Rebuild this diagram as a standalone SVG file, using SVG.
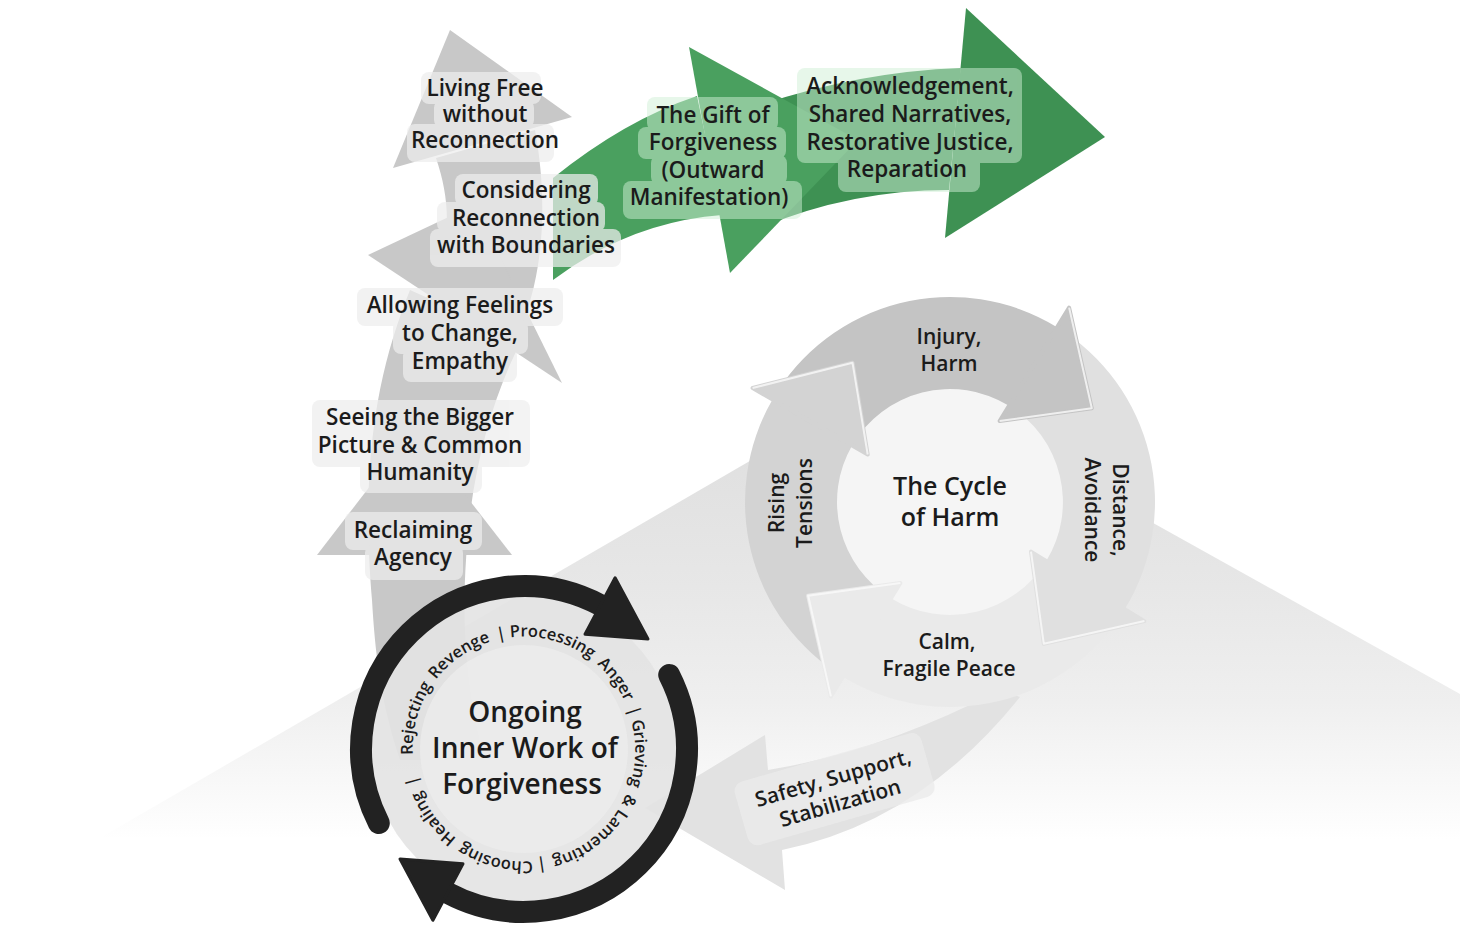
<svg xmlns="http://www.w3.org/2000/svg" width="1460" height="940" viewBox="0 0 1460 940">
<defs>
<linearGradient id="bgTri" gradientUnits="userSpaceOnUse" x1="0" y1="380" x2="0" y2="840">
<stop offset="0" stop-color="#dcdcdc"/>
<stop offset="0.45" stop-color="#e7e7e7"/>
<stop offset="0.7" stop-color="#efefef"/>
<stop offset="1" stop-color="#ffffff"/>
</linearGradient>
<path id="ringText" d="M414.7,768.3 A111,111 0 1,1 633.3,729.7 A111,111 0 1,1 414.7,768.3 A111,111 0 1,1 633.3,729.7"/>
</defs>
<style>
.lbl{font-family:"Open Sans","Liberation Sans",sans-serif;font-weight:600;font-size:22.5px;fill:#1b1b1b;text-anchor:middle}
.clbl{font-family:"Open Sans","Liberation Sans",sans-serif;font-weight:600;font-size:21px;fill:#1b1b1b;text-anchor:middle}
.big{font-family:"Open Sans","Liberation Sans",sans-serif;font-weight:600;font-size:28px;fill:#1b1b1b;text-anchor:middle}
.mid{font-family:"Open Sans","Liberation Sans",sans-serif;font-weight:600;font-size:25px;fill:#1b1b1b;text-anchor:middle}
.ring{font-family:"Open Sans","Liberation Sans",sans-serif;font-weight:600;font-size:16.5px;fill:#1b1b1b}
.gray{fill:#c8c8c8}
.bgw{fill:#eeeeee}
.bgg{fill:#d0f0d6}
.edge{fill:none;stroke:#fafafa;stroke-width:2;stroke-linejoin:round;opacity:.8}
</style>

<polygon points="893,378 1460,694 1460,840 100,838" fill="url(#bgTri)"/>

<g id="safety-arrow">
<path d="M1000,690 Q880,752 768,770 L765,735 L645,808 L785,890 L782,850 Q920,822 1020,697 Z" fill="#e2e2e2"/>
<rect x="-97" y="-38" width="194" height="66" rx="10" transform="translate(836,794) rotate(-16)" fill="#ebebeb" opacity="0.8"/>
<g transform="translate(835,785) rotate(-16)">
<text class="clbl" x="0" y="0">Safety, Support,</text>
<text class="clbl" x="0" y="26">Stabilization</text>
</g>
</g>

<g id="cycle-of-harm">
<circle cx="950" cy="502" r="116" fill="#f5f5f5"/>
<path d="M842.9,676.8 A205,205 0 0,1 772.5,399.5 L852.1,445.5 A113,113 0 0,0 891.0,598.3 Z" fill="#d3d3d3"/>
<path d="M772.5,399.5 A205,205 0 0,1 1057.1,327.2 L1009.0,405.7 A113,113 0 0,0 852.1,445.5 Z" fill="#c4c4c4"/>
<path d="M1057.1,327.2 A205,205 0 0,1 1124.8,609.1 L1046.3,561.0 A113,113 0 0,0 1009.0,405.7 Z" fill="#e0e0e0"/>
<path d="M1124.8,609.1 A205,205 0 0,1 842.9,676.8 L891.0,598.3 A113,113 0 0,0 1046.3,561.0 Z" fill="#eaeaea"/>
<polygon points="752.6,388 852.5,362.7 867.7,454.5" fill="#d3d3d3" stroke="#d3d3d3" stroke-width="4" stroke-linejoin="round"/>
<polygon points="1069.1,307.6 1091.8,408.2 999.6,421" fill="#c4c4c4" stroke="#c4c4c4" stroke-width="4" stroke-linejoin="round"/>
<polygon points="1144.4,621.1 1043.8,643.8 1031,551.6" fill="#e0e0e0" stroke="#e0e0e0" stroke-width="4" stroke-linejoin="round"/>
<polygon points="830.9,696.4 808.2,595.8 900.4,583" fill="#eaeaea" stroke="#eaeaea" stroke-width="4" stroke-linejoin="round"/>
<polyline class="edge" points="752.6,388 852.5,362.7 867.7,454.5"/>
<polyline class="edge" points="1069.1,307.6 1091.8,408.2 999.6,421"/>
<polyline class="edge" points="1144.4,621.1 1043.8,643.8 1031,551.6"/>
<polyline class="edge" points="830.9,696.4 808.2,595.8 900.4,583"/>
<text class="mid" x="950" y="495">The Cycle</text>
<text class="mid" x="950" y="526">of Harm</text>
<text class="clbl" x="949" y="344">Injury,</text>
<text class="clbl" x="949" y="371">Harm</text>
<text class="clbl" x="947" y="649">Calm,</text>
<text class="clbl" x="949" y="676">Fragile Peace</text>
<g transform="translate(784,503) rotate(-90)">
<text class="clbl" x="0" y="0">Rising</text>
<text class="clbl" x="0" y="28">Tensions</text>
</g>
<g transform="translate(1113,510) rotate(90)">
<text class="clbl" x="0" y="0">Distance,</text>
<text class="clbl" x="0" y="28">Avoidance</text>
</g>
</g>

<g id="gray-path">
<path class="gray" d="M436,158 C452,205 452,250 425,300 L515,340 C545,280 548,200 535,130 Z"/>
<polygon class="gray" points="450,30 572,117 393,168"/>
<path class="gray" d="M410,290 C378,370 360,460 372,600 C375,650 380,700 400,760 L485,760 C465,690 462,620 466,560 C470,480 490,400 522,340 Z"/>
<polygon class="gray" points="368,255 474,205 562,383"/>
<polygon class="gray" points="317,555 414,429 512,555"/>
</g>

<g id="green-arrows">
<path d="M740,112 Q850,72 961,68 L949,190 Q850,190 760,228 Z" fill="#3e9153"/>
<polygon points="966,8 1105,137 945,238" fill="#3e9153"/>
<path d="M553,178 Q625,120 697,96 L722,215 Q630,222 553,280 Z" fill="#4aa05f"/>
<polygon points="689,47 858,140 730,273" fill="#4aa05f"/>
</g>

<g id="inner-work">
<circle cx="524" cy="749" r="153" fill="#e3e3e3" opacity="0.9"/>
<circle cx="524" cy="749" r="104" fill="#ececec" opacity="0.8"/>
<path d="M378.8,823.0 A163,163 0 0,1 600.5,605.1" fill="none" stroke="#222222" stroke-width="22" stroke-linecap="round"/>
<path d="M669.2,675.0 A163,163 0 0,1 447.5,892.9" fill="none" stroke="#222222" stroke-width="22" stroke-linecap="round"/>
<polygon points="615.1,577.7 648,639 585.0,634.2" fill="#222222" stroke="#222222" stroke-width="3" stroke-linejoin="round"/>
<polygon points="432.9,920.3 400,859 463.0,863.8" fill="#222222" stroke="#222222" stroke-width="3" stroke-linejoin="round"/>
<g class="ring">
<text><textPath href="#ringText" startOffset="13.6">Rejecting</textPath></text>
<text><textPath href="#ringText" startOffset="93.6">Revenge</textPath></text>
<text><textPath href="#ringText" startOffset="168.6">|</textPath></text>
<text><textPath href="#ringText" startOffset="181.6">Processing</textPath></text>
<text><textPath href="#ringText" startOffset="274.8">Anger</textPath></text>
<text><textPath href="#ringText" startOffset="329">|</textPath></text>
<text><textPath href="#ringText" startOffset="342">Grieving</textPath></text>
<text><textPath href="#ringText" startOffset="416">&amp;</textPath></text>
<text><textPath href="#ringText" startOffset="433">Lamenting</textPath></text>
<text><textPath href="#ringText" startOffset="525">|</textPath></text>
<text><textPath href="#ringText" startOffset="538">Choosing</textPath></text>
<text><textPath href="#ringText" startOffset="619">Healing</textPath></text>
<text><textPath href="#ringText" startOffset="686">|</textPath></text>
</g>
<text class="big" x="525" y="722">Ongoing</text>
<text class="big" x="525" y="758">Inner Work of</text>
<text class="big" x="522" y="794">Forgiveness</text>
</g>

<g id="label-living-free">
<g class="bgw" opacity="0.72">
<rect x="421" y="72" width="120" height="32" rx="8"/>
<rect x="434" y="100" width="100" height="28" rx="8"/>
<rect x="407" y="124" width="147" height="38" rx="8"/>
</g>
<text class="lbl" x="485" y="96">Living Free</text>
<text class="lbl" x="485" y="122">without</text>
<text class="lbl" x="485" y="148">Reconnection</text>
</g>

<g id="label-considering">
<g class="bgw" opacity="0.72">
<rect x="455" y="174" width="143" height="32" rx="8"/>
<rect x="437" y="202" width="168" height="30" rx="8"/>
<rect x="430" y="229" width="191" height="38" rx="8"/>
</g>
<text class="lbl" x="526" y="198">Considering</text>
<text class="lbl" x="526" y="226">Reconnection</text>
<text class="lbl" x="526" y="253">with Boundaries</text>
</g>

<g id="label-allowing">
<g class="bgw" opacity="0.72">
<rect x="357" y="288" width="206" height="38" rx="8"/>
<rect x="393" y="320" width="135" height="34" rx="8"/>
<rect x="403" y="348" width="114" height="34" rx="8"/>
</g>
<text class="lbl" x="460" y="313">Allowing Feelings</text>
<text class="lbl" x="460" y="341">to Change,</text>
<text class="lbl" x="460" y="369">Empathy</text>
</g>

<g id="label-seeing">
<g class="bgw" opacity="0.72">
<rect x="312" y="400" width="218" height="67" rx="8"/>
<rect x="360" y="460" width="122" height="33" rx="8"/>
</g>
<text class="lbl" x="420" y="425">Seeing the Bigger</text>
<text class="lbl" x="420" y="453">Picture &amp; Common</text>
<text class="lbl" x="420" y="480">Humanity</text>
</g>

<g id="label-reclaiming">
<g class="bgw" opacity="0.72">
<rect x="345" y="512" width="137" height="38" rx="8"/>
<rect x="365" y="545" width="98" height="35" rx="8"/>
</g>
<text class="lbl" x="413" y="538">Reclaiming</text>
<text class="lbl" x="413" y="565">Agency</text>
</g>

<g id="label-gift">
<g class="bgg" opacity="0.5">
<rect x="647" y="97" width="131" height="34" rx="8"/>
<rect x="638" y="127" width="148" height="32" rx="8"/>
<rect x="651" y="155" width="136" height="30" rx="8"/>
<rect x="623" y="181" width="179" height="38" rx="8"/>
</g>
<text class="lbl" x="713" y="123">The Gift of</text>
<text class="lbl" x="713" y="150">Forgiveness</text>
<text class="lbl" x="713" y="178">(Outward</text>
<text class="lbl" x="709" y="205">Manifestation)</text>
</g>

<g id="label-acknowledgement">
<g class="bgg" opacity="0.5">
<rect x="797" y="68" width="225" height="95" rx="8"/>
<rect x="838" y="155" width="142" height="37" rx="8"/>
</g>
<text class="lbl" x="910" y="94">Acknowledgement,</text>
<text class="lbl" x="910" y="122">Shared Narratives,</text>
<text class="lbl" x="910" y="150">Restorative Justice,</text>
<text class="lbl" x="907" y="177">Reparation</text>
</g>
</svg>
